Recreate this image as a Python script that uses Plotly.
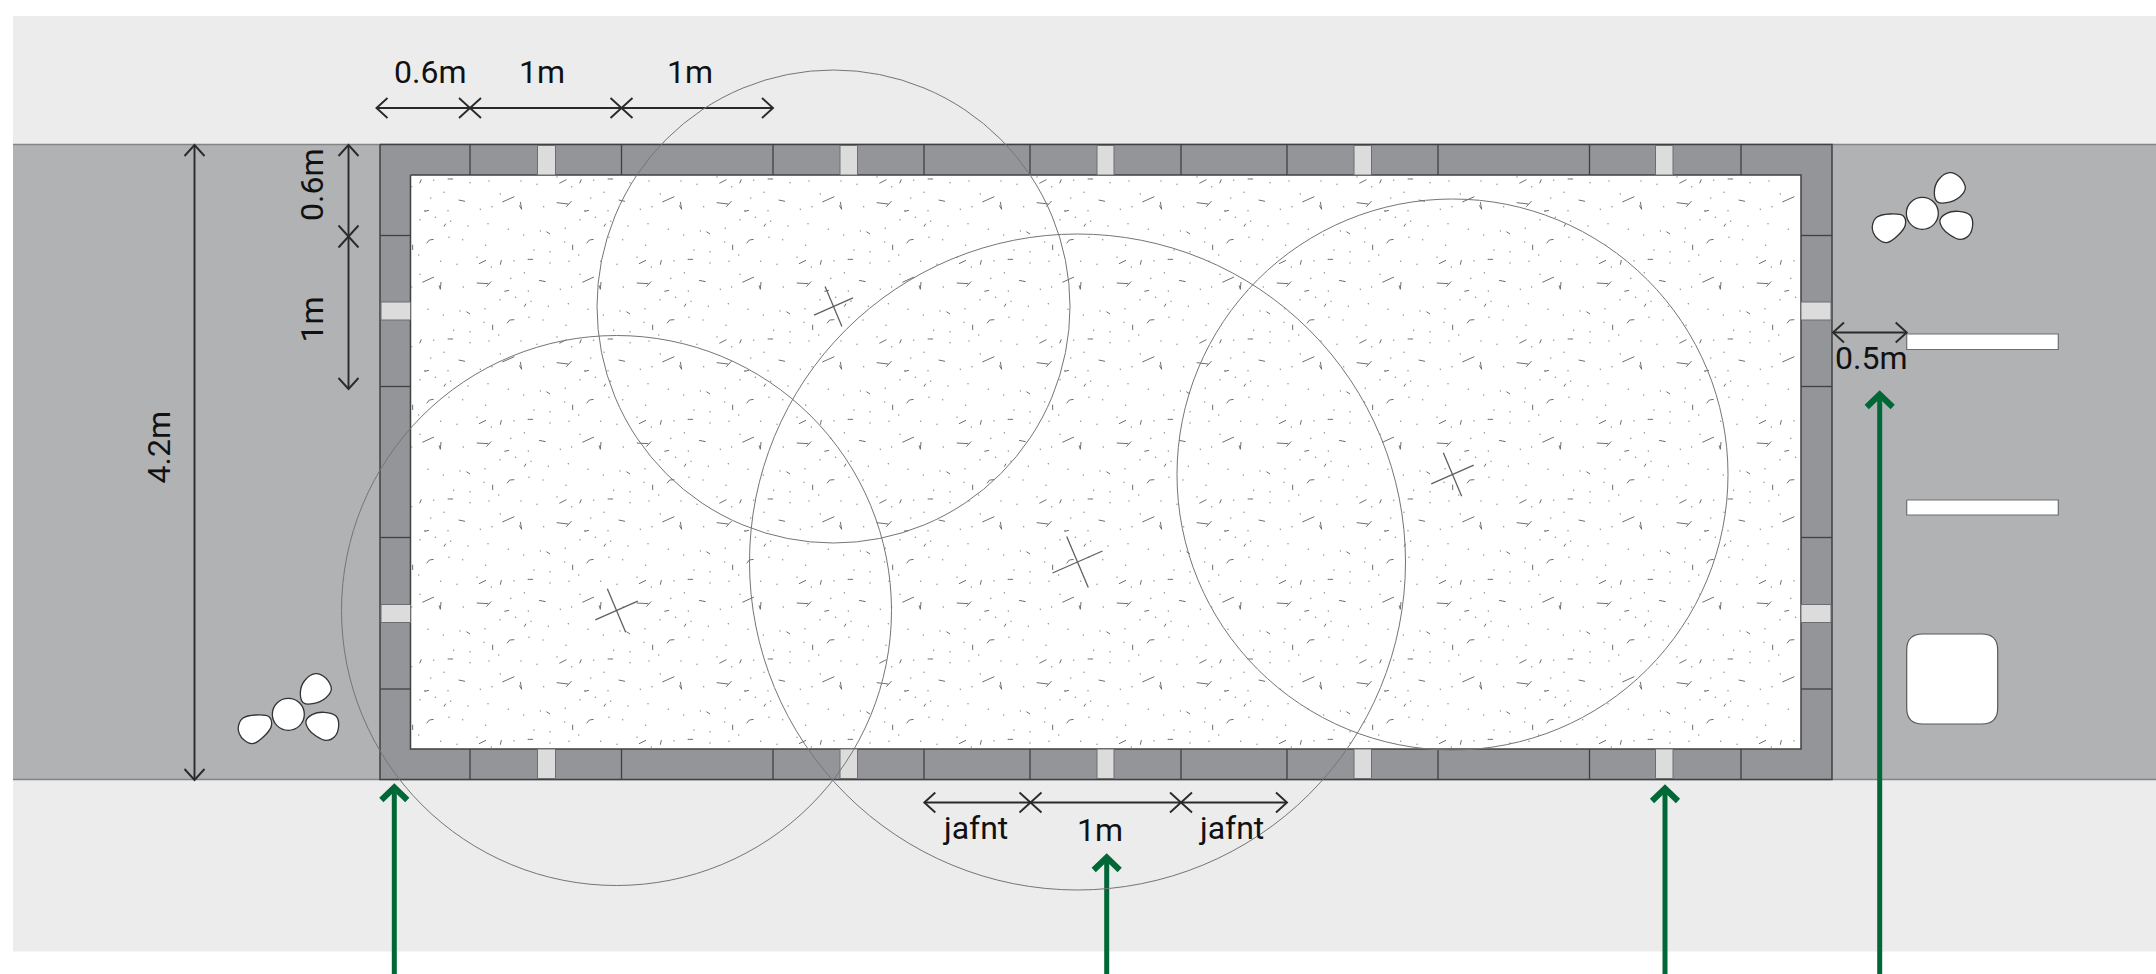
import plotly.graph_objects as go

# ---- scene extents (drawing units = reference pixels)
band_x = [13, 2156]
top_band_y = [16, 144.5]
bottom_band_y = [779.5, 951.5]
side_band_y = [144.5, 779.5]
frame_x = [380, 1832]
frame_y = [144.5, 779.5]
inner_x = [410.5, 1801]
inner_y = [175, 749]

# paver joints
horizontal_joint_x = [470, 621.5, 773, 924, 1030, 1181, 1287, 1438, 1589.5, 1741]
vertical_joint_y = [235.5, 386.5, 537.5, 689]
light_x = [(537.5, 555.5), (840, 857.5), (1097, 1114), (1354, 1371.5), (1655.5, 1673)]
light_y = [(302, 320), (604.5, 622.5)]

# planting circles: centre x, centre y, radius
tree_cx = [616.5, 833.5, 1077.5, 1452.5]
tree_cy = [610.5, 306.5, 562, 474.5]
tree_r = [275, 236.5, 328, 275.5]
tree_mark = [0.85, 0.78, 1.0, 0.85]

# dimension runs
dim_h_y = [108, 802.5, 332.5]
dim_h_x = [[376.5, 470, 621.5, 773], [924.3, 1030.5, 1181, 1287], [1833, 1906.7]]
dim_v_x = [194.5, 348.5]
dim_v_y = [[145, 780], [145, 236.5, 389]]

# access arrows
arrow_x = [394.3, 1106.7, 1665, 1879.7]
arrow_tip_y = [784, 854, 785, 391]

# labels
label_text = ["0.6m", "1m", "1m", "0.6m", "1m", "4.2m", "0.5m", "jafnt", "1m", "jafnt"]
label_x = [430, 541.5, 690, 311.5, 311.5, 158.5, 1871, 975, 1100, 1231]
label_y = [72, 72, 72, 185.5, 320, 448, 358, 828, 830, 828]
label_angle = [0, 0, 0, -90, -90, -90, 0, 0, 0, 0]

# furniture
bars_x = [1906.7, 2058.3]
bars_y = [(334, 349.5), (500, 515)]
seat_x = [1906.7, 1997.7]
seat_y = [634, 724]

# pebble group (relative to right group origin 1750,120, in thirds of a unit)
petal_a = [(598,158),(630,172),(646,205),(630,230),(590,248),(562,245),(553,218),(565,180)]
petal_b = [(570,300),(590,280),(625,274),(660,285),(668,315),(655,348),(630,358),(600,345),(578,325)]
petal_c = [(367,318),(380,292),(420,282),(460,288),(466,315),(445,345),(410,368),(385,358),(370,338)]
pebble_origins = [(1750, 120), (116, 621)]
pebble_centre = (517, 280)
pebble_r = 16

# stipple tile (160 unit repeat, coordinates in thirds of a unit)
tile_dots = [(68,13),(177,20),(234,15),(330,15),(378,25),(438,3),(2,32),(99,49),(268,54),(59,66),
    (111,104),(208,100),(243,92),(398,92),(42,104),(27,131),(73,124),(119,136),(171,150),(231,143),
    (292,160),(388,165),(463,157),(338,177),(114,184),(155,191),(224,208),(461,198),(23,237),(369,222),
    (417,227),(198,244),(89,256),(138,265),(241,273),(309,254),(417,261),(474,256),(27,295),(340,290),
    (299,307),(2,333),(157,333),(448,340),(352,345),(267,371),(314,364),(360,376),(412,391),(472,383),
    (51,400),(97,417),(147,405),(222,398),(219,439),(354,424),(396,432),(465,448),(128,463),(177,467),(263,477)]
tile_dashes = [[(26,22),(31,10)],[(110,9),(126,9)],[(445,22),(466,11)],[(143,72),(162,76)],[(274,78),(310,62)],
    [(328,78),(332,100),(325,88)],[(437,80),(472,84)],[(466,92),(482,75)],[(40,106),(54,103)],[(99,152),(104,143)],
    [(47,202),(55,192),(68,190)],[(5,206),(5,222)],[(406,167),(417,174)],[(204,263),(225,253)],[(268,266),(271,252)],
    [(350,250),(366,250)],[(34,319),(69,303)],[(197,321),(232,323)],[(226,332),(241,316)],[(90,318),(88,340),(84,328)],
    [(384,313),(404,317)],[(280,346),(294,343)],[(340,392),(345,383)],[(166,407),(177,414)],[(288,442),(296,432),(310,431)],
    [(245,446),(245,462)]]
tile_origin = (411, 176)
tile_size = 160

# colours
C_BAND = "#ececec"; C_SIDE = "#b1b2b4"; C_PAVER = "#939598"; C_LIGHT = "#dcdcdc"
C_DARK = "#414042"; C_DIM = "#2a2a2a"; C_GREEN = "#006837"; C_TEX = "#6e6e6e"; C_CIRC = "#757575"

fig = go.Figure()

def add(x, y, **kw):
    kw.setdefault("mode", "lines")
    fig.add_trace(go.Scatter(x=x, y=y, showlegend=False, hoverinfo="skip", **kw))

def rect(xr, yr, fill, line=None, width=1.5):
    add([xr[0], xr[1], xr[1], xr[0], xr[0]], [yr[0], yr[0], yr[1], yr[1], yr[0]],
        fill="toself", fillcolor=fill,
        line=dict(color=line or fill, width=width if line else 0))

rect(band_x, top_band_y, C_BAND)
rect(band_x, bottom_band_y, C_BAND)
rect(band_x, side_band_y, C_SIDE)
add([band_x[0], band_x[1], None, band_x[0], band_x[1]], [side_band_y[0], side_band_y[0], None, side_band_y[1], side_band_y[1]],
    line=dict(color="#858585", width=1.5))
rect(frame_x, frame_y, C_PAVER, C_DARK, 1.5)
rect(inner_x, inner_y, "#ffffff", C_DARK, 1.5)

# joints
jx, jy = [], []
for x in horizontal_joint_x:
    jx += [x, x, None, x, x, None]
    jy += [frame_y[0], inner_y[0], None, inner_y[1], frame_y[1], None]
for y in vertical_joint_y:
    jx += [frame_x[0], inner_x[0], None, inner_x[1], frame_x[1], None]
    jy += [y, y, None, y, y, None]
add(jx, jy, line=dict(color=C_DARK, width=1.3))
for a, b in light_x:
    rect((a, b), (frame_y[0] + 1, inner_y[0]), C_LIGHT, "#6d6e71", 1)
    rect((a, b), (inner_y[1], frame_y[1] - 1), C_LIGHT, "#6d6e71", 1)
for a, b in light_y:
    rect((frame_x[0] + 1, inner_x[0]), (a, b), C_LIGHT, "#6d6e71", 1)
    rect((inner_x[1], frame_x[1] - 1), (a, b), C_LIGHT, "#6d6e71", 1)

# stipple
dx, dy, lx, ly = [], [], [], []
nx = int((inner_x[1] - tile_origin[0]) // tile_size) + 1
ny = int((inner_y[1] - tile_origin[1]) // tile_size) + 1
def inside(px, py):
    return inner_x[0] + 1 < px < inner_x[1] - 1 and inner_y[0] + 1 < py < inner_y[1] - 1
for i in range(nx):
    for j in range(ny):
        ox = tile_origin[0] + i * tile_size
        oy = tile_origin[1] + j * tile_size
        for a, b in tile_dots:
            if inside(ox + a / 3, oy + b / 3):
                dx.append(ox + a / 3); dy.append(oy + b / 3)
        for run in tile_dashes:
            pts = [(ox + a / 3, oy + b / 3) for a, b in run]
            if all(inside(*p) for p in pts):
                lx += [p[0] for p in pts] + [None]
                ly += [p[1] for p in pts] + [None]
add(dx, dy, mode="markers", marker=dict(size=1.5, color="#909090", line=dict(width=0)))
add(lx, ly, line=dict(color=C_TEX, width=1.0))

# tree stems
sx, sy = [], []
for cx, cy, s in zip(tree_cx, tree_cy, tree_mark):
    sx += [cx - 10.8 * s, cx + 10.8 * s, None, cx - 25 * s, cx + 25 * s, None]
    sy += [cy - 25.5 * s, cy + 25.5 * s, None, cy + 11 * s, cy - 11 * s, None]
add(sx, sy, line=dict(color="#606060", width=1.3))

# furniture
for yr in bars_y:
    rect(bars_x, yr, "#ffffff", "#6d6e71", 1.2)
fig.add_shape(type="path", xref="x", yref="y",
    path=("M {a} {t} L {b} {t} Q {c} {t} {c} {u} L {c} {v} Q {c} {e} {b} {e} L {a} {e} Q {l} {e} {l} {v} L {l} {u} Q {l} {t} {a} {t} Z").format(
        l=seat_x[0], c=seat_x[1], t=seat_y[0], e=seat_y[1], a=seat_x[0] + 16, b=seat_x[1] - 16,
        u=seat_y[0] + 16, v=seat_y[1] - 16),
    fillcolor="#ffffff", line=dict(color="#58595b", width=1.2), layer="above")

# pebbles
for ox, oy in pebble_origins:
    for petal in (petal_a, petal_b, petal_c):
        closed = petal + petal[:1]
        add([ox + p[0] / 3 for p in closed], [oy + p[1] / 3 for p in closed],
            fill="toself", fillcolor="#ffffff", line=dict(color="#333333", width=1.3, shape="spline", smoothing=1.0))
    mx, my = ox + pebble_centre[0] / 3, oy + pebble_centre[1] / 3
    fig.add_shape(type="circle", xref="x", yref="y", x0=mx - pebble_r, x1=mx + pebble_r, y0=my - pebble_r, y1=my + pebble_r,
        fillcolor="#ffffff", line=dict(color="#333333", width=1.3), layer="above")

# planting circles
for cx, cy, r in zip(tree_cx, tree_cy, tree_r):
    fig.add_shape(type="circle", xref="x", yref="y", x0=cx - r, x1=cx + r, y0=cy - r, y1=cy + r,
        line=dict(color=C_CIRC, width=1.0), fillcolor="rgba(0,0,0,0)", layer="above")

# dimensions
HEAD_L, HEAD_W = 11, 10
qx, qy = [], []
for y, xs in zip(dim_h_y, dim_h_x):
    qx += [xs[0], xs[-1], None]; qy += [y, y, None]
    for a, b in zip(xs[:-1], xs[1:]):
        qx += [a + HEAD_L, a, a + HEAD_L, None, b - HEAD_L, b, b - HEAD_L, None]
        qy += [y - HEAD_W, y, y + HEAD_W, None, y - HEAD_W, y, y + HEAD_W, None]
for x, ys in zip(dim_v_x, dim_v_y):
    qx += [x, x, None]; qy += [ys[0], ys[-1], None]
    for a, b in zip(ys[:-1], ys[1:]):
        qx += [x - HEAD_W, x, x + HEAD_W, None, x - HEAD_W, x, x + HEAD_W, None]
        qy += [a + HEAD_L, a, a + HEAD_L, None, b - HEAD_L, b, b - HEAD_L, None]
add(qx, qy, line=dict(color=C_DIM, width=1.9))

# green arrows
sx_g, sy_g, hx_g, hy_g = [], [], [], []
for x, t in zip(arrow_x, arrow_tip_y):
    sx_g += [x, x, None]
    sy_g += [t + 3, 974, None]
    hx_g += [x - 13, x, x + 13, None]
    hy_g += [t + 16, t + 3.5, t + 16, None]
add(sx_g, sy_g, line=dict(color=C_GREEN, width=5))
add(hx_g, hy_g, line=dict(color=C_GREEN, width=6))

for t, x, y, a in zip(label_text, label_x, label_y, label_angle):
    fig.add_annotation(text=t, x=x, y=y, xref="x", yref="y", showarrow=False, textangle=a,
                       font=dict(family="Roboto", size=32, color="#111111"))

fig.update_xaxes(range=[0, 2156], visible=False, fixedrange=True)
fig.update_yaxes(range=[974, 0], visible=False, fixedrange=True)
fig.update_layout(width=2156, height=974, margin=dict(l=0, r=0, t=0, b=0),
                  paper_bgcolor="#ffffff", plot_bgcolor="#ffffff", showlegend=False)
fig.write_html("out.html", config={"displayModeBar": False},
               post_script="document.body.style.margin='0';")
